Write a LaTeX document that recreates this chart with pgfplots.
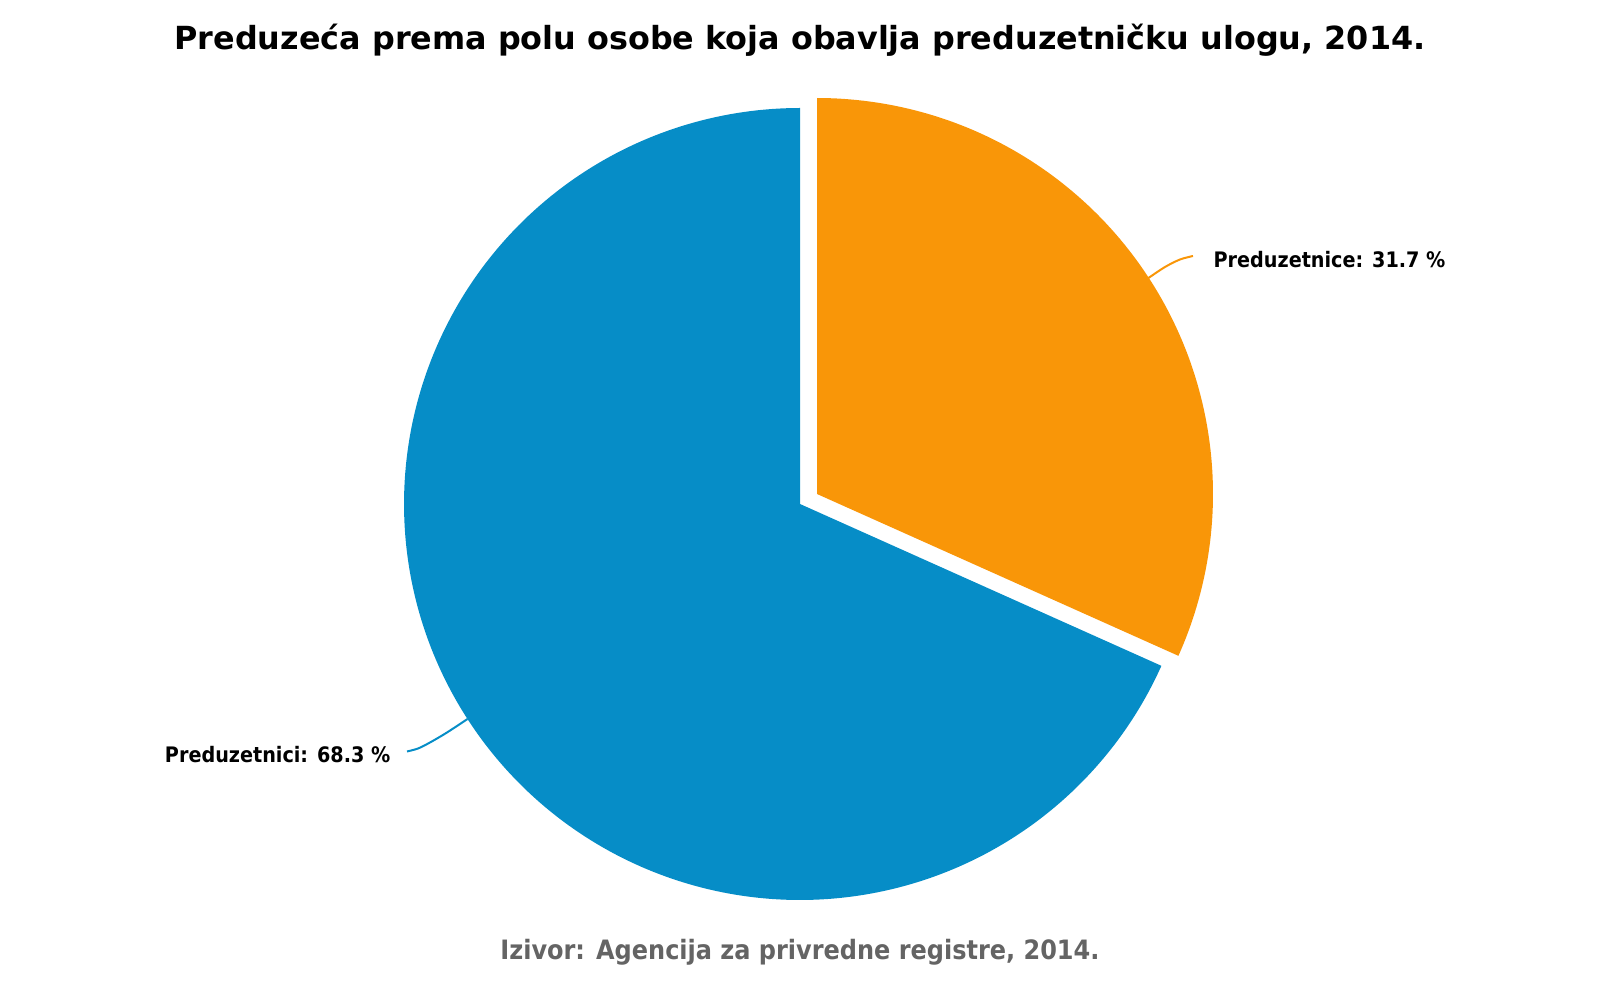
\documentclass[border=0pt]{standalone}
\usepackage{fontspec}
\setmainfont{DejaVu Sans Condensed}
\newfontfamily\titlefont{DejaVu Sans}
\usepackage{pgfplots}
\pgfplotsset{compat=1.18}
\definecolor{pieblue}{RGB}{6,141,199}
\definecolor{pieorange}{RGB}{249,150,8}
\definecolor{srcgrey}{RGB}{100,100,100}
\begin{document}
\begin{tikzpicture}
\begin{axis}[
  width=480pt, height=300pt, scale only axis,
  xmin=0, xmax=1600, ymin=0, ymax=1000,
  hide axis, clip=false,
]
\draw[draw=none] (rel axis cs:0,0) rectangle (rel axis cs:1,1);
% Preduzetnici 68.3 %  (from 90 deg counter-clockwise)
\addplot[fill=pieblue, draw=none, variable=\t, domain=90:90+68.3*3.6, samples=240]
  ({800+396*cos(t)},{496+396*sin(t)}) -- (axis cs:800,496) -- cycle;
% Preduzetnice 31.7 % (exploded)
\addplot[fill=pieorange, draw=none, variable=\t, domain=90-31.7*3.6:90, samples=120]
  ({817+396*cos(t)},{506+396*sin(t)}) -- (axis cs:817,506) -- cycle;
% connectors
\addplot[pieorange, line width=0.6pt, smooth] coordinates {(1147,721) (1165,733) (1180,740.5) (1193,744)};
\addplot[pieblue, line width=0.6pt, smooth] coordinates {(467.5,281) (447,267.5) (430,257.5) (418,251.5) (407,248.5)};
\node[anchor=base west, inner sep=0pt, font=\fontsize{6.4pt}{8pt}\selectfont\bfseries] at (axis cs:1213,732) {Preduzetnice: 31.7 \%};
\node[anchor=base east, inner sep=0pt, font=\fontsize{6.4pt}{8pt}\selectfont\bfseries] at (axis cs:391,237) {Preduzetnici: 68.3 \%};
\node[anchor=base, inner sep=0pt, font=\fontsize{9.55pt}{12pt}\titlefont\bfseries] at (axis cs:800,950) {Preduzeća prema polu osobe koja obavlja preduzetničku ulogu, 2014.};
\node[anchor=base, inner sep=0pt, text=srcgrey, font=\fontsize{8pt}{9pt}\selectfont\bfseries] at (axis cs:800,40) {Izivor: Agencija za privredne registre, 2014.};
\end{axis}
\end{tikzpicture}
\end{document}
